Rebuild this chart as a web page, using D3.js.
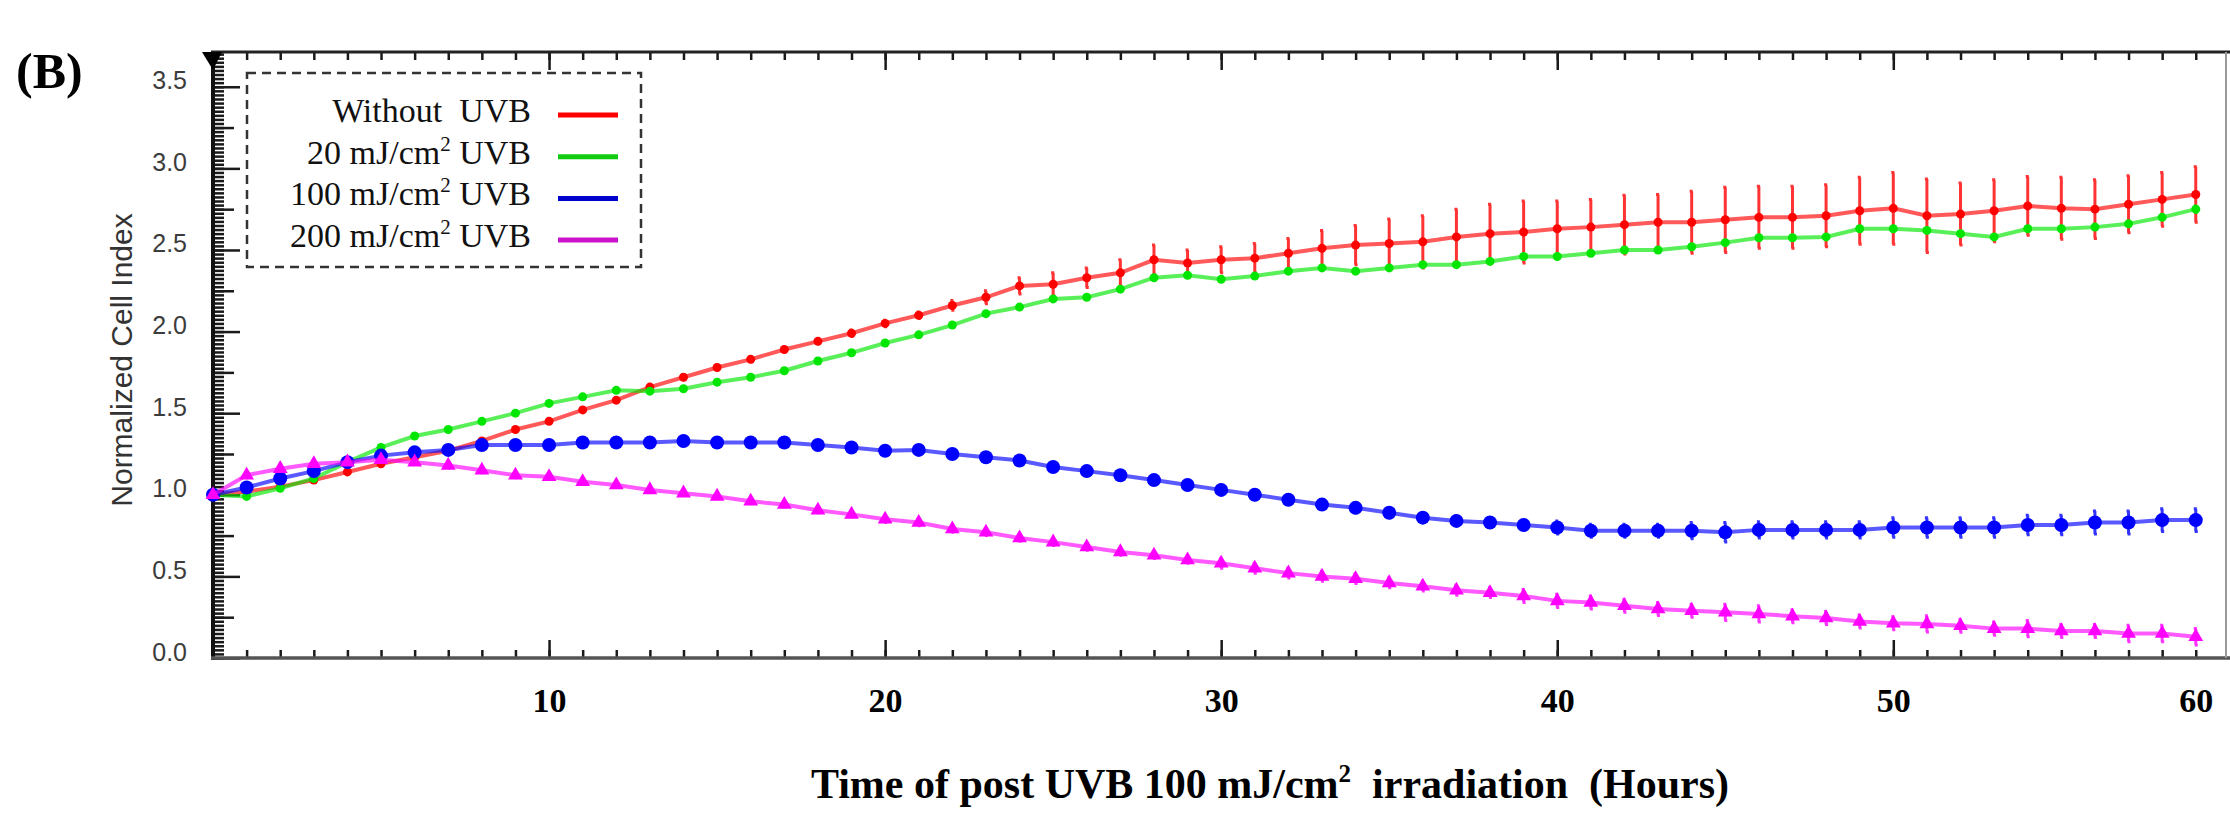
<!DOCTYPE html>
<html>
<head>
<meta charset="utf-8">
<script src="https://cdn.jsdelivr.net/npm/d3@7"></script>
<style>
body { margin: 0; background: #fff; }
svg { display: block; }
</style>
</head>
<body>
<div id="chart"></div>
<script>
// hours after irradiation (one reading per hour)
var hours = d3.range(0, 60);

var withoutUVB = [1.00, 1.02, 1.05, 1.09, 1.14, 1.19, 1.23, 1.27, 1.33, 1.40,
  1.45, 1.52, 1.58, 1.66, 1.72, 1.78, 1.83, 1.89, 1.94, 1.99,
  2.05, 2.10, 2.16, 2.21, 2.28, 2.29, 2.33, 2.36, 2.44, 2.42,
  2.44, 2.45, 2.48, 2.51, 2.53, 2.54, 2.55, 2.58, 2.60, 2.61,
  2.63, 2.64, 2.655, 2.67, 2.67, 2.685, 2.70, 2.70, 2.71, 2.74,
  2.755, 2.71, 2.72, 2.74, 2.77, 2.755, 2.75, 2.78, 2.81, 2.84];
var withoutErr = [0, 0.01, 0.01, 0.01, 0.01, 0.01, 0.01, 0.01, 0.01, 0.01,
  0.01, 0.01, 0.01, 0.01, 0.015, 0.015, 0.015, 0.015, 0.015, 0.02,
  0.02, 0.02, 0.03, 0.04, 0.05, 0.07, 0.06, 0.08, 0.09, 0.08,
  0.08, 0.09, 0.09, 0.11, 0.12, 0.15, 0.16, 0.17, 0.18, 0.19,
  0.17, 0.17, 0.18, 0.17, 0.19, 0.20, 0.19, 0.19, 0.19, 0.205,
  0.22, 0.225, 0.19, 0.19, 0.18, 0.19, 0.18, 0.175, 0.165, 0.17];

var uvb20 = [1.00, 0.99, 1.04, 1.10, 1.20, 1.29, 1.36, 1.40, 1.45, 1.50,
  1.56, 1.60, 1.64, 1.635, 1.65, 1.69, 1.72, 1.76, 1.82, 1.87,
  1.93, 1.98, 2.04, 2.11, 2.15, 2.20, 2.21, 2.26, 2.33, 2.345,
  2.32, 2.34, 2.37, 2.39, 2.37, 2.39, 2.41, 2.41, 2.43, 2.46,
  2.46, 2.48, 2.50, 2.50, 2.52, 2.545, 2.575, 2.575, 2.58, 2.63,
  2.63, 2.62, 2.60, 2.58, 2.63, 2.63, 2.64, 2.66, 2.70, 2.75];
var uvb20Err = [0, 0.01, 0.01, 0.01, 0.01, 0.01, 0.01, 0.01, 0.01, 0.01,
  0.01, 0.01, 0.01, 0.01, 0.01, 0.01, 0.01, 0.01, 0.01, 0.01,
  0.01, 0.01, 0.01, 0.01, 0.01, 0.01, 0.01, 0.01, 0.01, 0.01,
  0.01, 0.01, 0.01, 0.01, 0.01, 0.01, 0.01, 0.01, 0.01, 0.01,
  0.01, 0.01, 0.01, 0.01, 0.01, 0.01, 0.01, 0.01, 0.01, 0.01,
  0.01, 0.01, 0.01, 0.01, 0.01, 0.01, 0.01, 0.01, 0.01, 0.02];

var uvb100 = [1.00, 1.045, 1.10, 1.145, 1.20, 1.24, 1.26, 1.275, 1.305, 1.305,
  1.305, 1.32, 1.32, 1.32, 1.33, 1.32, 1.32, 1.32, 1.305, 1.29,
  1.27, 1.275, 1.25, 1.23, 1.21, 1.17, 1.145, 1.12, 1.09, 1.06,
  1.03, 1.00, 0.97, 0.94, 0.92, 0.89, 0.86, 0.84, 0.83, 0.815,
  0.80, 0.78, 0.78, 0.78, 0.78, 0.77, 0.785, 0.785, 0.785, 0.785,
  0.80, 0.80, 0.80, 0.80, 0.815, 0.815, 0.83, 0.83, 0.845, 0.845];
var uvb100Err = [0, 0.01, 0.01, 0.01, 0.01, 0.01, 0.01, 0.01, 0.01, 0.01,
  0.01, 0.01, 0.01, 0.01, 0.01, 0.01, 0.01, 0.01, 0.01, 0.01,
  0.02, 0.02, 0.02, 0.02, 0.02, 0.02, 0.02, 0.02, 0.02, 0.02,
  0.03, 0.03, 0.03, 0.03, 0.03, 0.03, 0.03, 0.03, 0.03, 0.03,
  0.04, 0.04, 0.04, 0.04, 0.05, 0.06, 0.05, 0.05, 0.05, 0.05,
  0.06, 0.06, 0.06, 0.06, 0.06, 0.06, 0.07, 0.07, 0.07, 0.07];

var uvb200 = [1.00, 1.12, 1.16, 1.19, 1.20, 1.215, 1.20, 1.18, 1.15, 1.12,
  1.11, 1.08, 1.06, 1.03, 1.01, 0.99, 0.96, 0.94, 0.905, 0.88,
  0.85, 0.83, 0.79, 0.77, 0.735, 0.71, 0.68, 0.65, 0.63, 0.60,
  0.58, 0.55, 0.52, 0.50, 0.486, 0.46, 0.44, 0.415, 0.40, 0.38,
  0.35, 0.34, 0.32, 0.30, 0.29, 0.28, 0.27, 0.256, 0.245, 0.224,
  0.213, 0.209, 0.198, 0.18, 0.18, 0.166, 0.166, 0.15, 0.15, 0.13];
var uvb200Err = [0, 0.015, 0.015, 0.015, 0.015, 0.015, 0.015, 0.015, 0.015, 0.015,
  0.015, 0.015, 0.015, 0.015, 0.015, 0.015, 0.015, 0.015, 0.015, 0.015,
  0.02, 0.02, 0.02, 0.02, 0.02, 0.02, 0.02, 0.02, 0.02, 0.02,
  0.03, 0.03, 0.03, 0.03, 0.03, 0.03, 0.03, 0.03, 0.03, 0.04,
  0.04, 0.04, 0.04, 0.04, 0.04, 0.05, 0.05, 0.04, 0.04, 0.04,
  0.04, 0.05, 0.04, 0.04, 0.05, 0.04, 0.04, 0.05, 0.05, 0.05];

var seriesLabels = ['Without  UVB', '20 mJ/cm^2 UVB', '100 mJ/cm^2 UVB', '200 mJ/cm^2 UVB'];
var seriesColors = ['#ff0000', '#00e600', '#0000ff', '#ff00ff'];
var legendColors = ['#ff0000', '#11cc11', '#0000cc', '#cc11cc'];

var yTickLabels = [0, 0.5, 1.0, 1.5, 2.0, 2.5, 3.0, 3.5];
var xTickLabelPos = [10, 20, 30, 40, 50, 59];
var xTickLabels = ['10', '20', '30', '40', '50', '60'];

var width = 2230, height = 813;
var svg = d3.select('#chart').append('svg')
    .attr('width', width)
    .attr('height', height)
    .style('background', '#fff');

var x = d3.scaleLinear().domain([0, 59.9]).range([213, 2226]);
var y = d3.scaleLinear().domain([0, 3.713]).range([658, 52]);
var x0 = x(0), plotTop = y.range()[1], plotBottom = y.range()[0], plotRight = x.range()[1];

// ---- ticks ----
function styleAxis(g) {
  g.select('.domain').remove();
  g.selectAll('.tick line').attr('stroke', '#1a1a1a').attr('stroke-width', 2.5);
}
var yMinor = d3.range(0, 149).map(function (i) { return +(i * 0.025).toFixed(3); });
var yMid = d3.range(0, 7).map(function (i) { return 0.25 + i * 0.5; });

svg.append('g').attr('transform', 'translate(' + x0 + ',0)')
  .call(d3.axisRight(y).tickValues(yMinor).tickSize(11).tickFormat(''))
  .call(styleAxis);
svg.append('g').attr('transform', 'translate(' + x0 + ',0)')
  .call(d3.axisRight(y).tickValues(yMid).tickSize(21).tickFormat(''))
  .call(styleAxis);
svg.append('g').attr('transform', 'translate(' + x0 + ',0)')
  .call(d3.axisRight(y).tickValues(yTickLabels).tickSize(27).tickFormat(''))
  .call(styleAxis);

// y labels (they sit a little above their ticks in the original)
var yLab = svg.append('g').attr('transform', 'translate(' + x0 + ',0)')
  .call(d3.axisLeft(y).tickValues(yTickLabels).tickSize(0).tickPadding(26).tickFormat(d3.format('.1f')));
yLab.select('.domain').remove();
yLab.selectAll('text')
  .attr('dy', '0')
  .attr('y', -7)
  .style('dominant-baseline', 'central')
  .attr('fill', '#3c3c3c')
  .style('font-family', '"Liberation Sans", Arial, sans-serif')
  .style('font-size', '25px');

var xMinor = d3.range(1, 60);
var xMajor = [10, 20, 30, 40, 50];
svg.append('g').attr('transform', 'translate(0,' + plotBottom + ')')
  .call(d3.axisTop(x).tickValues(xMinor).tickSize(8).tickFormat(''))
  .call(styleAxis);
svg.append('g').attr('transform', 'translate(0,' + plotBottom + ')')
  .call(d3.axisTop(x).tickValues(xMajor).tickSize(18).tickFormat(''))
  .call(styleAxis);
svg.append('g').attr('transform', 'translate(0,' + plotTop + ')')
  .call(d3.axisBottom(x).tickValues(xMinor).tickSize(8).tickFormat(''))
  .call(styleAxis);
svg.append('g').attr('transform', 'translate(0,' + plotTop + ')')
  .call(d3.axisBottom(x).tickValues(xMajor).tickSize(18).tickFormat(''))
  .call(styleAxis);

var xLab = svg.append('g').attr('transform', 'translate(0,' + plotBottom + ')')
  .call(d3.axisBottom(x).tickValues(xTickLabelPos).tickSize(0).tickPadding(30)
    .tickFormat(function (d, i) { return xTickLabels[i]; }));
xLab.select('.domain').remove();
xLab.selectAll('text')
  .attr('fill', '#000')
  .style('font-family', '"Liberation Serif", "Times New Roman", serif')
  .style('font-weight', 'bold')
  .style('font-size', '34px');

// ---- frame ----
svg.append('line').attr('x1', x0).attr('x2', x0).attr('y1', plotTop).attr('y2', plotBottom + 2)
  .attr('stroke', '#111').attr('stroke-width', 4);
svg.append('line').attr('x1', x0 - 2).attr('x2', width).attr('y1', plotBottom).attr('y2', plotBottom)
  .attr('stroke', '#555').attr('stroke-width', 3.5);
svg.append('line').attr('x1', x0 - 2).attr('x2', width).attr('y1', plotTop).attr('y2', plotTop)
  .attr('stroke', '#222').attr('stroke-width', 3);
svg.append('line').attr('x1', plotRight).attr('x2', plotRight).attr('y1', plotTop).attr('y2', plotBottom)
  .attr('stroke', '#999').attr('stroke-width', 2);
svg.append('path')
  .attr('d', 'M' + (x0 - 11) + ',' + plotTop + 'L' + (x0 + 9) + ',' + plotTop + 'L' + x0 + ',' + (plotTop + 18) + 'Z')
  .attr('fill', '#000');

// ---- series ----
var series = [
  { values: withoutUVB, err: withoutErr, shape: 'circle', r: 4.5 },
  { values: uvb20, err: uvb20Err, shape: 'circle', r: 4.5 },
  { values: uvb100, err: uvb100Err, shape: 'circle', r: 7 },
  { values: uvb200, err: uvb200Err, shape: 'triangle', r: 7 }
];

var line = d3.line()
  .x(function (d) { return x(d.t); })
  .y(function (d) { return y(d.v); });

series.forEach(function (s, si) {
  var pts = hours.map(function (t, i) { return { t: t, v: s.values[i], e: s.err[i] }; });
  var col = seriesColors[si];
  var g = svg.append('g');

  g.append('path')
    .datum(pts)
    .attr('d', line)
    .attr('fill', 'none')
    .attr('stroke', col)
    .attr('stroke-opacity', 0.65)
    .attr('stroke-width', 4);

  g.selectAll('.err')
    .data(pts.filter(function (d) { return d.e > 0; }))
    .enter()
    .append('path')
    .attr('class', 'err')
    .attr('d', function (d) {
      var cx = x(d.t), y1 = y(d.v + d.e), y2 = y(d.v - d.e);
      return 'M' + (cx - 2) + ',' + y1 + 'H' + (cx + 1) + 'M' + cx + ',' + y1 + 'V' + y2 +
        'M' + (cx - 1) + ',' + y2 + 'H' + (cx + 2);
    })
    .attr('fill', 'none')
    .attr('stroke', col)
    .attr('stroke-opacity', 0.8)
    .attr('stroke-width', 3);

  if (s.shape === 'circle') {
    g.selectAll('.pt')
      .data(pts).enter()
      .append('circle')
      .attr('class', 'pt')
      .attr('cx', function (d) { return x(d.t); })
      .attr('cy', function (d) { return y(d.v); })
      .attr('r', s.r)
      .attr('fill', col);
  } else {
    var tri = d3.symbol().type(d3.symbolTriangle).size(95);
    g.selectAll('.pt')
      .data(pts).enter()
      .append('path')
      .attr('class', 'pt')
      .attr('d', tri)
      .attr('transform', function (d) { return 'translate(' + x(d.t) + ',' + y(d.v) + ')'; })
      .attr('fill', col);
  }
});

// ---- legend ----
var legend = svg.append('g');
legend.append('rect')
  .attr('x', 247).attr('y', 73).attr('width', 394).attr('height', 194)
  .attr('fill', 'none')
  .attr('stroke', '#333')
  .attr('stroke-width', 2.5)
  .attr('stroke-dasharray', '9,6');

seriesLabels.forEach(function (lab, i) {
  var base = 122 + i * 41.7;
  var parts = lab.split('^');
  var t = legend.append('text')
    .attr('x', 531).attr('y', base)
    .attr('text-anchor', 'end')
    .style('font-family', '"Liberation Serif", "Times New Roman", serif')
    .style('font-size', '34px')
    .style('white-space', 'pre')
    .attr('fill', '#111');
  if (parts.length === 1) {
    t.text(lab);
  } else {
    t.append('tspan').text(parts[0]);
    t.append('tspan').attr('dy', -13).style('font-size', '21px').text(parts[1].charAt(0));
    t.append('tspan').attr('dy', 13).text(parts[1].slice(1));
  }
  legend.append('line')
    .attr('x1', 558).attr('x2', 618)
    .attr('y1', base - 7).attr('y2', base - 7)
    .attr('stroke', legendColors[i])
    .attr('stroke-width', 5);
});

// ---- titles ----
svg.append('text')
  .attr('transform', 'translate(121,360) rotate(-90)')
  .attr('text-anchor', 'middle')
  .style('dominant-baseline', 'central')
  .style('font-family', '"Liberation Sans", Arial, sans-serif')
  .style('font-size', '30px')
  .attr('fill', '#333')
  .text('Normalized Cell Index');

var xt = svg.append('text')
  .attr('x', 1270).attr('y', 798)
  .attr('text-anchor', 'middle')
  .style('font-family', '"Liberation Serif", "Times New Roman", serif')
  .style('font-weight', 'bold')
  .style('font-size', '42px')
  .style('white-space', 'pre')
  .attr('fill', '#000');
xt.append('tspan').text('Time of post UVB 100 mJ/cm');
xt.append('tspan').attr('dy', -16).style('font-size', '25px').text('2');
xt.append('tspan').attr('dy', 16).text('  irradiation  (Hours)');

svg.append('text')
  .attr('x', 16).attr('y', 88)
  .style('font-family', '"Liberation Serif", "Times New Roman", serif')
  .style('font-weight', 'bold')
  .style('font-size', '50px')
  .attr('fill', '#000')
  .text('(B)');
</script>
</body>
</html>
